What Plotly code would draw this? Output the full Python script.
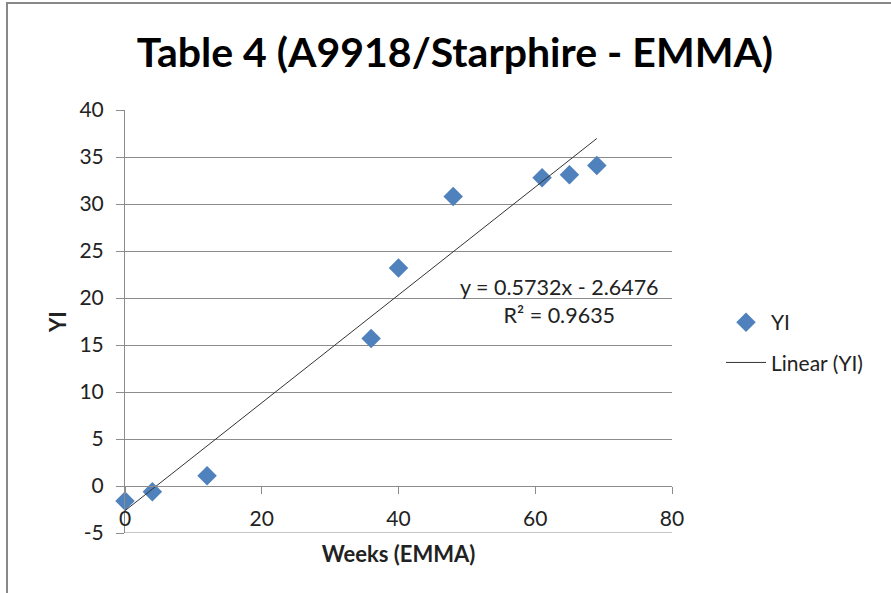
import numpy as np
import plotly.graph_objects as go

weeks = [0, 4, 12, 36, 40, 48, 61, 65, 69]
yi = [-1.6, -0.6, 1.1, 15.7, 23.2, 30.8, 32.8, 33.1, 34.1]
x_ticks = [0, 20, 40, 60, 80]
x_tick_labels = ["0", "20", "40", "60", "80"]
y_ticks = [-5, 0, 5, 10, 15, 20, 25, 30, 35, 40]
y_tick_labels = ["-5", "0", "5", "10", "15", "20", "25", "30", "35", "40"]
title_text = "Table 4 (A9918/Starphire - EMMA)"
eq_text = "y = 0.5732x - 2.6476<br>R² = 0.9635"

slope, intercept = np.polyfit(weeks, yi, 1)
fit_x = [min(weeks), max(weeks)]
fit_y = [slope * v + intercept for v in fit_x]

W, H = 891, 593
L, R, T, B = 125, 672, 110, 533
FONT = "Lato"
GRID = "#8c8c8c"
TXT = "#222222"

def px(xp):
    return (xp - L) / (R - L)

def py(yp):
    return (B - yp) / (B - T)

ymin, ymax = -5, 40
y0_frac = (0 - ymin) / (ymax - ymin)

fig = go.Figure()
fig.add_trace(go.Scatter(
    x=weeks, y=yi, mode="markers", name="YI", legendgroup="a",
    cliponaxis=False,
    marker=dict(symbol="diamond", size=15, color="#4F81BD"),
))
fig.add_trace(go.Scatter(
    x=fit_x, y=fit_y, mode="lines", name="Linear (YI)", legendgroup="b",
    line=dict(color="#333333", width=1),
))

fig.update_layout(
    width=W, height=H,
    margin=dict(l=L, r=W - R, t=T, b=H - B),
    paper_bgcolor="white", plot_bgcolor="white",
    font=dict(family=FONT, color=TXT, size=21),
    title=dict(text="<b>" + title_text + "</b>", xref="paper", x=px(455),
               xanchor="center", yref="container", y=1 - 53 / H,
               yanchor="middle",
               font=dict(size=41, family=FONT, color="black")),
    showlegend=True,
    legend=dict(x=px(721), y=py(302), xanchor="left", yanchor="top",
                font=dict(size=21, family=FONT, color=TXT),
                bgcolor="rgba(0,0,0,0)", tracegroupgap=10, itemwidth=40),
    xaxis=dict(range=[0, 80], tickvals=x_ticks, ticktext=x_tick_labels,
               showgrid=False, automargin=False,
               zeroline=False, showline=True, linecolor=GRID, linewidth=1,
               anchor="free", position=y0_frac,
               ticks="outside", ticklen=7, tickcolor=GRID,
               ticklabelstandoff=7,
               tickfont=dict(size=21, family=FONT, color=TXT),
               title=dict(text="<b>Weeks (EMMA)</b>", standoff=17,
                          font=dict(size=22, family=FONT, color=TXT))),
    yaxis=dict(range=[ymin, ymax], tickvals=y_ticks, ticktext=y_tick_labels,
               showgrid=True, automargin=False,
               gridcolor=GRID, gridwidth=1, zeroline=False,
               showline=True, linecolor=GRID, linewidth=1,
               ticks="outside", ticklen=8, tickcolor=GRID,
               ticklabelstandoff=8,
               tickfont=dict(size=21, family=FONT, color=TXT),
               title=dict(text="<b>YI</b>", standoff=6,
                          font=dict(size=22, family=FONT, color=TXT))),
)

fig.add_annotation(
    text=eq_text, xref="paper", yref="paper",
    x=px(559), y=py(301), xanchor="center", yanchor="middle",
    showarrow=False, align="center",
    font=dict(size=21.5, family=FONT, color=TXT),
)

# bottom gridline at y = -5
fig.add_shape(type="line", xref="paper", yref="y", x0=0, x1=1, y0=ymin, y1=ymin,
              line=dict(color=GRID, width=1), layer="below")

fig.add_shape(type="rect", xref="paper", yref="paper",
              x0=px(7), x1=px(W + 10), y0=py(H + 10), y1=py(3),
              line=dict(color="#888", width=2), fillcolor="rgba(0,0,0,0)",
              layer="below")

fig.write_html("out.html", config={"displayModeBar": False},
               post_script="document.body.style.margin='0px';document.body.style.padding='0px';")
